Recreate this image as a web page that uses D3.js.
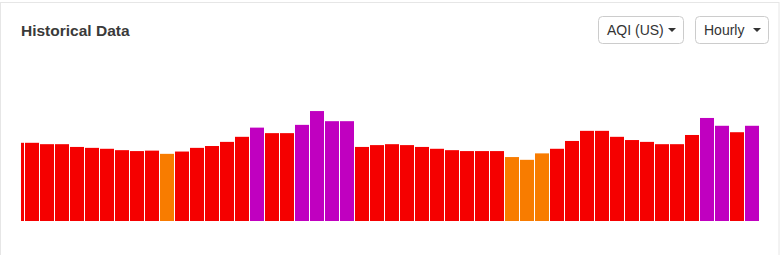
<!DOCTYPE html>
<html>
<head>
<meta charset="utf-8">
<script src="https://cdn.jsdelivr.net/npm/d3@7"></script>
<style>
  body { margin: 0; padding: 0; overflow: hidden; background: #fff; font-family: "Liberation Sans", Arial, sans-serif; }
</style>
</head>
<body>
<script>
// hourly AQI (US) readings, oldest first (first one is cut off by the plot edge)
const aqiValues = [170, 170, 167, 167, 161, 159, 157, 154, 152, 153,
                   146, 151, 159, 163, 172, 183, 203, 191, 191, 209,
                   239, 217, 217, 161, 165, 167, 165, 161, 157, 154,
                   152, 152, 152, 139, 133, 147, 157, 174, 196, 196,
                   183, 176, 172, 167, 167, 187, 224, 207, 193, 207];
const aqiBreaks = [50, 100, 150, 200, 300];
const aqiColors = ["#00e400", "#ffff00", "#f87c00", "#f50000", "#c000c0", "#7e0023"];
const dropdowns = ["AQI (US)", "Hourly"];

const W = 780, H = 255;
const svg = d3.select("body").append("svg").attr("width", W).attr("height", H);

// card
svg.append("rect").attr("x", 0.5).attr("y", 2.5).attr("width", W - 1.5).attr("height", 320)
   .attr("fill", "#fff").attr("stroke", "#e6e6e6");

svg.append("text").attr("x", 21).attr("y", 36)
   .attr("font-size", 15.5).attr("font-weight", "bold").attr("fill", "#3a3a3a")
   .text("Historical Data");

// dropdown buttons
const boxes = [{x: 598, w: 86}, {x: 695, w: 74}];
const dd = svg.selectAll("g.dd").data(dropdowns).enter().append("g").attr("class", "dd")
   .attr("transform", (d, i) => `translate(${boxes[i].x},16)`);
dd.append("rect").attr("x", 0.5).attr("y", 0.5).attr("width", (d, i) => boxes[i].w - 1).attr("height", 27)
   .attr("rx", 4).attr("fill", "#fff").attr("stroke", "#ccc");
dd.append("text").attr("x", 9).attr("y", 19).attr("font-size", 14).attr("fill", "#333").text(d => d);
dd.append("path").attr("d", (d, i) => `M${boxes[i].w - 16},12 l8,0 l-4,4 z`).attr("fill", "#333");

// bars
const x = d3.scaleBand().domain(d3.range(aqiValues.length)).range([10, 759]).paddingInner(1 / 15).paddingOuter(0);
const y = d3.scaleLinear().domain([0, 300]).range([221, 83]);
const color = d3.scaleThreshold().domain(aqiBreaks).range(aqiColors);

svg.append("clipPath").attr("id", "plot").append("rect")
   .attr("x", 21).attr("y", 40).attr("width", 740).attr("height", 190);

svg.append("g").attr("clip-path", "url(#plot)")
   .selectAll("rect").data(aqiValues).enter().append("rect")
   .attr("x", (d, i) => x(i))
   .attr("y", d => y(d))
   .attr("width", x.bandwidth())
   .attr("height", d => y(0) - y(d))
   .attr("fill", d => color(d));
</script>
</body>
</html>
